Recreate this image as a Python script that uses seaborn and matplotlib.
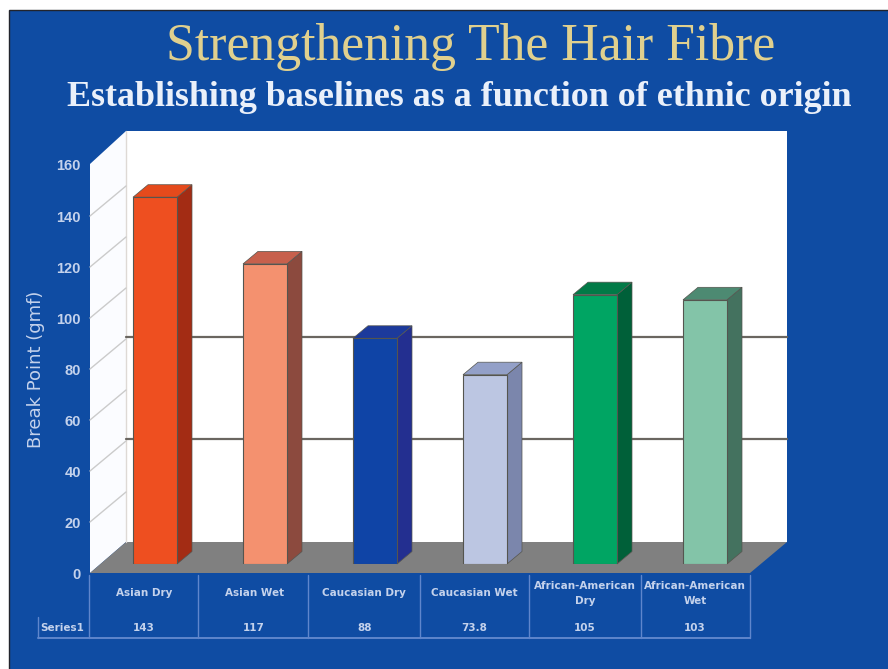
import matplotlib
matplotlib.use("Agg")
import matplotlib.pyplot as plt
import pandas as pd
import seaborn as sns
from matplotlib.patches import Polygon, Rectangle

categories = ["Asian Dry", "Asian Wet", "Caucasian Dry", "Caucasian Wet",
              "African-American Dry", "African-American Wet"]
table_labels = ["Asian Dry", "Asian Wet", "Caucasian Dry", "Caucasian Wet",
                "African-American\nDry", "African-American\nWet"]
break_point = [143, 117, 88, 73.8, 105, 103]
value_labels = ["143", "117", "88", "73.8", "105", "103"]
front_colors = ["#EE4F20", "#F4916F", "#0F44A6", "#BCC6E2", "#00A563", "#83C4A8"]
side_colors = ["#A32C14", "#8C4A3E", "#232F90", "#7B86AC", "#006039", "#44725F"]
top_colors = ["#E54A1C", "#C7604C", "#1C3A9C", "#93A0C8", "#017A47", "#4D8A72"]
y_ticks = [0, 20, 40, 60, 80, 100, 120, 140, 160]
major_grid = [40, 80]

W, H = 888, 669
BLUE = "#0F4CA3"
LIGHT = "#C4D2EC"
LINE = "#5F86CC"
PX_PER_UNIT = 2.565
DEPTH_X, DEPTH_Y = 15, 12.5  # receding offset of each bar, in pixels

sns.set_theme(style="white")
fig = plt.figure(figsize=(W / 100, H / 100), dpi=100, facecolor="white")


def axes_from_pixels(left, top, right, bottom):
    return fig.add_axes([left / W, 1 - bottom / H, (right - left) / W, (bottom - top) / H])


# Slide backdrop, walls and floor, laid out in pixel coordinates
bg = fig.add_axes([0, 0, 1, 1])
bg.set_xlim(0, W)
bg.set_ylim(H, 0)
bg.axis("off")
bg.add_patch(Rectangle((9, 10), W, H, fc=BLUE, ec="#22242C", lw=1))
bg.add_patch(Polygon([(90, 164), (126, 131), (126, 542), (90, 573)], fc="#FBFCFF", ec="none"))
bg.add_patch(Rectangle((126, 131), 661, 411, fc="white", ec="none"))
bg.plot([126, 126], [131, 542], color="#DED9D5", lw=1)
bg.add_patch(Polygon([(90, 573), (126, 542), (787, 542), (750, 573)], fc="#808080", ec="none"))

for v in y_ticks[1:-1]:
    front_y = 573 - v * 2.55
    bg.plot([90, 126], [front_y, front_y - 30], color="#CBCBCB", lw=1)
for v in major_grid:
    wall_y = 542 - v * PX_PER_UNIT
    bg.plot([126, 787], [wall_y, wall_y], color="#6A6660", lw=1.6)

# Data table under the plot
for x in [89, 198, 308, 420, 529, 641, 750]:
    bg.plot([x, x], [575, 638], color=LINE, lw=1)
bg.plot([38, 38], [617, 638], color=LINE, lw=1)
bg.plot([38, 750], [638, 638], color=LINE, lw=1.4)
bg.text(62, 628, "Series1", color=LIGHT, fontsize=7.5, fontweight="bold",
        ha="center", va="center", family="DejaVu Sans")
for i, (name, val) in enumerate(zip(table_labels, value_labels)):
    cx = 144 + i * 110.2
    bg.text(cx, 593.5, name, color=LIGHT, fontsize=7.5, fontweight="bold", ha="center",
            va="center", linespacing=1.6, family="DejaVu Sans")
    bg.text(cx, 628, val, color=LIGHT, fontsize=7.5, fontweight="bold", ha="center",
            va="center", family="DejaVu Sans")

bg.text(470.5, 47, "Strengthening The Hair Fibre", color="#E0D08E", fontsize=37.3,
        ha="center", va="center", family="Liberation Serif")
bg.text(459.5, 97, "Establishing baselines as a function of ethnic origin", color="#EAF0FA",
        fontsize=25.9, fontweight="bold", ha="center", va="center", family="Liberation Serif")

# Value axis on the front edge of the side wall
frame = axes_from_pixels(90, 165, 91, 573.5)
frame.patch.set_visible(False)
frame.set_ylim(0, 160)
frame.set_xticks([])
frame.set_yticks(y_ticks)
frame.tick_params(axis="y", length=0, pad=6.5, labelsize=10.5, labelcolor=LIGHT)
for label in frame.get_yticklabels():
    label.set_fontfamily("Liberation Sans")
    label.set_fontweight("bold")
frame.set_ylabel("Break Point (gmf)", color=LIGHT, fontsize=13, family="DejaVu Sans")
frame.yaxis.set_label_coords(-45, 80, transform=frame.get_yaxis_transform())
sns.despine(ax=frame, left=True, bottom=True)

# Bars, with depth faces built from each bar's own geometry
ax = axes_from_pixels(100, 564 - 160 * PX_PER_UNIT, 760, 564)
ax.patch.set_visible(False)
data = pd.DataFrame({"category": categories, "value": break_point})
sns.barplot(data=data, x="category", y="value", hue="category", palette=front_colors,
            width=0.4, dodge=False, legend=False, saturation=1, ax=ax,
            edgecolor="#55554F", linewidth=0.8, zorder=3)
ax.set_xlim(-0.5, 5.5)
ax.set_ylim(0, 160)
ax.axis("off")
dx = DEPTH_X / 110
dy = DEPTH_Y / PX_PER_UNIT
for bar, side, top in zip(ax.patches, side_colors, top_colors):
    x0, w, h = bar.get_x(), bar.get_width(), bar.get_height()
    x1 = x0 + w
    ax.add_patch(Polygon([(x1, 0), (x1 + dx, dy), (x1 + dx, h + dy), (x1, h)], fc=side,
                         ec="#55554F", lw=0.5, zorder=2, clip_on=False))
    ax.add_patch(Polygon([(x0, h), (x0 + dx, h + dy), (x1 + dx, h + dy), (x1, h)], fc=top,
                         ec="#55554F", lw=0.5, zorder=2, clip_on=False))

fig.savefig("out.png", dpi=100, facecolor="white")
